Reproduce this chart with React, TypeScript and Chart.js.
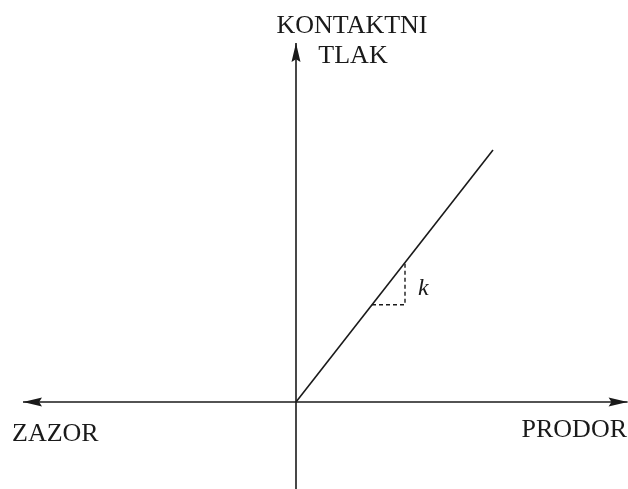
import React, { useEffect, useRef } from "react";
import { Chart, registerables } from "chart.js";

Chart.register(...registerables);

// Diagram extents (abstract units)
const xRange = [-14.8, 16.6];
const yRange = [-4.35, 20.1];

// Axes: [start, tip]
const horizontalAxis = [
  { x: -13.65, y: 0 },
  { x: 16.58, y: 0 },
];
const verticalAxis = [
  { x: 0, y: -4.35 },
  { x: 0, y: 17.95 },
];

// Contact pressure line (slope k)
const pressureLine = [
  { x: 0, y: 0 },
  { x: 9.85, y: 12.6 },
];

// Dashed slope triangle
const slopeTriangle = [
  { x: 3.8, y: 4.86 },
  { x: 5.45, y: 4.86 },
  { x: 5.45, y: 6.97 },
];

// Labels
const labelTexts = ["KONTAKTNI", "TLAK", "ZAZOR", "PRODOR", "k"];
const labelAnchors = [
  { x: 2.8, y: 18.45 },
  { x: 2.85, y: 16.95 },
  { x: -14.2, y: -1.95 },
  { x: 16.55, y: -1.75 },
  { x: 6.1, y: 5.35 },
];

const INK = "#1a1a1a";

const arrowPlugin = {
  id: "arrowsAndLabels",
  afterDatasetsDraw(chart: any) {
    const { ctx, scales } = chart;
    const xs = scales.x;
    const ys = scales.y;
    const px = (p: { x: number; y: number }) => [xs.getPixelForValue(p.x), ys.getPixelForValue(p.y)];

    const drawArrow = (from: any, to: any) => {
      const [x0, y0] = px(from);
      const [x1, y1] = px(to);
      const ang = Math.atan2(y1 - y0, x1 - x0);
      const len = 19;
      const hw = 4.5;
      ctx.save();
      ctx.translate(x1, y1);
      ctx.rotate(ang);
      ctx.beginPath();
      ctx.moveTo(0, 0);
      ctx.lineTo(-len, -hw);
      ctx.lineTo(-len * 0.85, 0);
      ctx.lineTo(-len, hw);
      ctx.closePath();
      ctx.fillStyle = INK;
      ctx.fill();
      ctx.restore();
    };
    drawArrow(horizontalAxis[1], horizontalAxis[0]);
    drawArrow(horizontalAxis[0], horizontalAxis[1]);
    drawArrow(verticalAxis[0], verticalAxis[1]);

    ctx.save();
    ctx.fillStyle = INK;
    ctx.textBaseline = "alphabetic";
    labelTexts.forEach((t, i) => {
      const [x, y] = px(labelAnchors[i]);
      if (t === "k") {
        ctx.font = "italic 24px 'Liberation Serif', serif";
        ctx.textAlign = "left";
      } else {
        ctx.font = "26px 'Liberation Serif', serif";
        ctx.textAlign = i < 2 ? "center" : i === 2 ? "left" : "right";
      }
      ctx.fillText(t, x, y);
    });
    ctx.restore();
  },
};

export default function App() {
  const ref = useRef<HTMLCanvasElement | null>(null);

  useEffect(() => {
    document.body.style.margin = "0";
    const canvas = ref.current;
    if (!canvas) return;
    const lineDs = (data: any[], width: number, dash: number[] = []) => ({
      data,
      showLine: true,
      borderColor: INK,
      borderWidth: width,
      borderDash: dash,
      pointRadius: 0,
      fill: false,
      tension: 0,
    });
    const chart = new Chart(canvas, {
      type: "scatter",
      data: {
        datasets: [
          lineDs(horizontalAxis, 1.6),
          lineDs(verticalAxis, 1.6),
          lineDs(pressureLine, 1.6),
          lineDs(slopeTriangle, 1.4, [4, 3]),
        ],
      },
      options: {
        responsive: false,
        animation: false,
        layout: { padding: 0 },
        scales: {
          x: { type: "linear", min: xRange[0], max: xRange[1], display: false },
          y: { type: "linear", min: yRange[0], max: yRange[1], display: false },
        },
        plugins: {
          legend: { display: false },
          tooltip: { enabled: false },
        },
      },
      plugins: [arrowPlugin],
    } as any);
    return () => chart.destroy();
  }, []);

  return (
    <div style={{ position: "absolute", left: 0, top: 0, width: 628, height: 489, background: "#fff" }}>
      <canvas ref={ref} width={628} height={489} />
    </div>
  );
}
